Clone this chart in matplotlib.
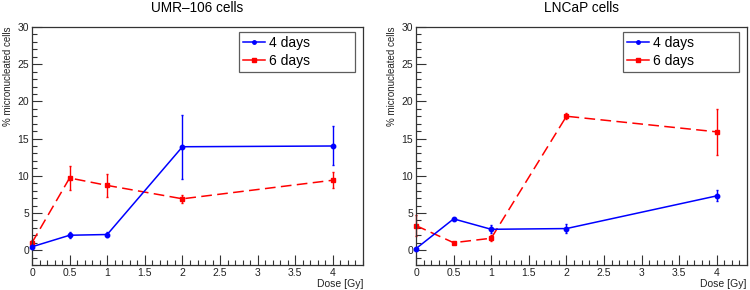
import matplotlib
matplotlib.use("Agg")
import matplotlib.pyplot as plt
from matplotlib.ticker import MultipleLocator
from matplotlib.lines import Line2D

plt.rcParams['font.family'] = ['Liberation Sans', 'DejaVu Sans']

dose = [0, 0.5, 1, 2, 4]

# UMR-106
umr_4d = [0.45, 2.0, 2.1, 13.9, 14.0]
umr_4d_lo = [0.2, 0.4, 0.3, 4.3, 2.6]
umr_4d_hi = [0.2, 0.4, 0.3, 4.3, 2.7]
umr_6d = [1.0, 9.7, 8.7, 6.9, 9.4]
umr_6d_err = [0.4, 1.6, 1.6, 0.55, 1.05]

# LNCaP
ln_4d = [0.2, 4.2, 2.8, 2.9, 7.3]
ln_4d_err = [0.1, 0.15, 0.55, 0.6, 0.75]
ln_6d = [3.3, 1.0, 1.6, 18.0, 15.9]
ln_6d_err = [1.4, 0.15, 0.4, 0.4, 3.05]

titles = ["UMR\u2013106 cells", "LNCaP cells"]
legend_labels = ["4 days", "6 days"]

BLUE = '#0000ff'
RED = '#ff0000'
DASH = (0, (7, 3.5))

fig = plt.figure(figsize=(7.5, 2.9), dpi=100)
ax1 = fig.add_axes([32/750, 25/290, 331/750, 238/290])
ax2 = fig.add_axes([416/750, 25/290, 331/750, 238/290])

datasets = [
    (ax1, umr_4d, [umr_4d_lo, umr_4d_hi], umr_6d, umr_6d_err),
    (ax2, ln_4d, ln_4d_err, ln_6d, ln_6d_err),
]

for i, (ax, y4, e4, y6, e6) in enumerate(datasets):
    ax.errorbar(dose, y4, yerr=e4, color=BLUE, marker='o', markersize=3.2,
                linewidth=1.1, elinewidth=1.0, capsize=1.0,
                zorder=3, clip_on=False)
    ax.errorbar(dose, y6, yerr=e6, color=RED, marker='s', markersize=3.5,
                linewidth=1.1, elinewidth=1.0, capsize=1.0, linestyle=DASH,
                zorder=2, clip_on=False)
    ax.set_xlim(0, 4.4)
    ax.set_ylim(-2, 30)
    ax.xaxis.set_major_locator(MultipleLocator(0.5))
    ax.xaxis.set_minor_locator(MultipleLocator(0.1))
    ax.yaxis.set_major_locator(MultipleLocator(5))
    ax.yaxis.set_minor_locator(MultipleLocator(1))
    ax.tick_params(which='both', direction='in', top=False, right=False,
                   labelsize=7.5, color='#333333', width=0.8, pad=2,
                   labelcolor='#222222')
    ax.tick_params(which='major', length=7)
    ax.tick_params(which='minor', length=3.5)
    ax.set_xticks([0, 0.5, 1, 1.5, 2, 2.5, 3, 3.5, 4])
    ax.set_xticklabels(['0', '0.5', '1', '1.5', '2', '2.5', '3', '3.5', '4'])
    for s in ax.spines.values():
        s.set_linewidth(0.9)
        s.set_color('#333333')
    ax.set_ylabel('% micronucleated cells', fontsize=7, loc='top', labelpad=3,
                  color='#222222')
    ax.set_xlabel('Dose [Gy]', fontsize=7.5, loc='right', labelpad=1,
                  color='#222222')
    ax.set_title(titles[i], fontsize=9.8, pad=11)
    handles = [Line2D([], [], color=BLUE, marker='o', markersize=2.5, linewidth=1.1),
               Line2D([], [], color=RED, marker='s', markersize=2.8, linewidth=1.1)]
    leg = ax.legend(handles, legend_labels, loc='upper left',
                    bbox_to_anchor=(0.625, 0.815, 0.351, 0.164), mode='expand',
                    fontsize=10, frameon=True, fancybox=False, edgecolor='#333333',
                    handlelength=1.6, handletextpad=0.3, borderpad=0.3,
                    labelspacing=0.3, borderaxespad=0)
    leg.get_frame().set_linewidth(0.9)

fig.savefig('out.png', dpi=100)
